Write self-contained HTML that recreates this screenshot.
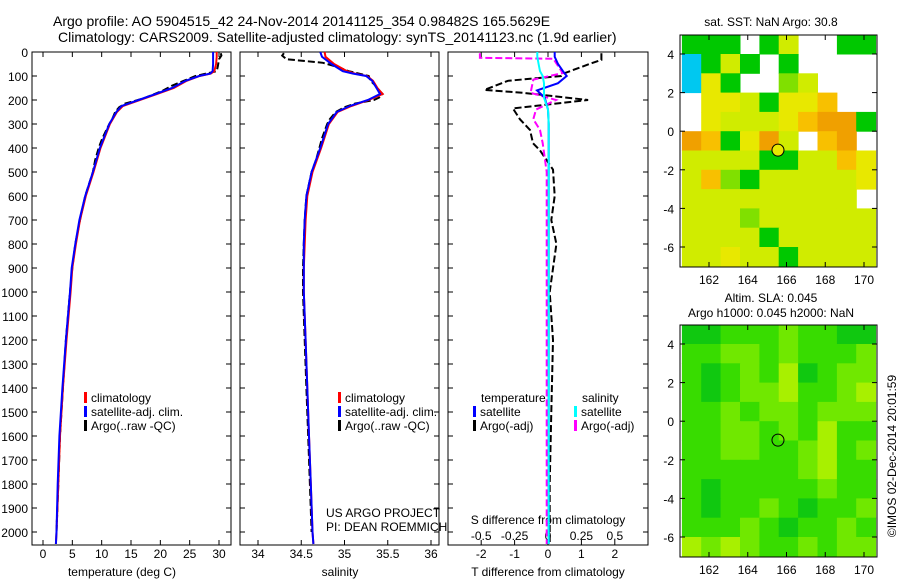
<!DOCTYPE html>
<html><head><meta charset="utf-8"><style>
body{margin:0;background:#fff}
svg{display:block;font-family:"Liberation Sans",sans-serif;font-size:12px}
</style></head><body>
<svg id="fig" width="900" height="580" xmlns="http://www.w3.org/2000/svg">
<text x="53" y="26" font-size="14">Argo profile: AO 5904515_42 24-Nov-2014 20141125_354 0.98482S 165.5629E</text>
<text x="58" y="42" font-size="14">Climatology: CARS2009. Satellite-adjusted climatology: synTS_20141123.nc (1.9d earlier)</text>
<text x="771" y="26" text-anchor="middle">sat. SST: NaN Argo: 30.8</text>
<text x="771" y="302" text-anchor="middle">Altim. SLA: 0.045</text>
<text x="771" y="317" text-anchor="middle">Argo h1000: 0.045 h2000: NaN</text>
<text transform="translate(896,456) rotate(-90)" text-anchor="middle">©IMOS 02-Dec-2014 20:01:59</text>
<g id="g"></g>
</svg>
<script>
// ---- data ----
const depthClim=[0,20,50,80,90,100,120,150,175,200,225,250,300,400,500,600,700,800,900,1000,1200,1400,1600,1800,2000,2050];
const tempClim=[29.6,29.6,29.5,29.2,28.6,26.7,24.5,22.3,19.4,16.5,13.6,12.6,11.4,9.8,8.6,7.3,6.3,5.6,5.0,4.7,4.0,3.4,2.9,2.6,2.3,2.2];
const tempSat=[29.0,29.0,29.0,28.9,28.5,26.6,24.3,22.0,19.2,16.3,13.4,12.5,11.3,9.7,8.5,7.2,6.2,5.5,4.9,4.6,3.9,3.3,2.8,2.5,2.3,2.2];
const salClim=[34.77,34.78,34.88,35.03,35.12,35.26,35.33,35.38,35.44,35.28,35.08,34.92,34.82,34.73,34.63,34.57,34.55,34.54,34.53,34.53,34.55,34.57,34.59,34.61,34.63,34.64];
const salSat=[34.72,34.74,34.85,34.98,35.10,35.25,35.32,35.37,35.41,35.27,35.06,34.91,34.81,34.72,34.62,34.56,34.54,34.53,34.53,34.53,34.55,34.57,34.59,34.61,34.63,34.64];
const depthArgo=[5,15,30,45,60,80,100,120,140,160,175,190,200,215,230,250,280,300,330,360,400,450,500,600,700,800,900,1000,1200,1400,1600,1800,2000];
const tempArgo=[30.3,30.4,30.0,29.9,29.8,29.6,26.0,24.0,22.0,20.5,19.0,17.5,16.2,14.0,13.0,12.3,11.8,11.3,10.7,10.1,9.5,8.9,8.5,7.2,6.3,5.5,5.0,4.6,3.9,3.4,2.9,2.6,2.3];
const salArgo=[34.30,34.28,34.33,34.75,34.90,35.05,35.28,35.30,35.36,35.40,35.44,35.40,35.34,35.12,35.00,34.90,34.83,34.80,34.77,34.74,34.71,34.67,34.62,34.56,34.54,34.53,34.52,34.52,34.54,34.56,34.58,34.60,34.62];
const tDiffSat=[0.2,0.2,0.3,0.45,0.56,0.3,-0.33,-0.1,0.0,0.02,0.02,0.02,0.02,0.02,0.02];
const sDiffSat=[-0.08,-0.08,-0.07,-0.06,-0.04,-0.03,-0.03,-0.03,0.0,0.005,0.005,0.005,0.005,0.005,0.005];
const depthDiff=[0,20,50,80,100,130,160,190,240,300,500,800,1200,1600,2050];
const tDiffArgo=[1.6,1.6,1.3,0.5,0.4,-1.2,-1.9,-0.75,1.2,-1.05,-0.84,-0.54,-0.45,-0.24,0.15,0.2,0.1,0.25,0.05,0.15,0.1,0.05,0.05];
const depthTArgo=[5,33,47,88,100,120,158,170,200,235,280,325,380,410,490,600,700,800,1000,1200,1500,1800,2050];
const sDiffArgo=[-0.51,-0.51,0.04,0.11,-0.11,-0.13,0.06,-0.09,-0.11,-0.06,-0.04,-0.01,-0.01,-0.01,-0.01];
const depthSArgo=[5,24,28,88,115,170,200,240,280,325,380,500,1000,1500,2050];
const depthTicks=[0,100,200,300,400,500,600,700,800,900,1000,1100,1200,1300,1400,1500,1600,1700,1800,1900,2000];
const tempTicks=[0,5,10,15,20,25,30];
const salTicks=[34,34.5,35,35.5,36];
const tdTicks=[-2,-1,0,1,2];
const sdTicks=[-0.5,-0.25,0,0.25,0.5];
const sdTickLabels=["-0.5","-0.25","0","0.25","0.5"];
const lonTicks=[162,164,166,168,170];
const latTicks=[4,2,0,-2,-4,-6];
// SST grid rows lat 5..-7 (1 deg), cols lon 160.6..170.6; 0 = NaN
const sstGrid=[
[2,2,2,0,2,4,0,0,2,2],
[1,2,4,2,0,2,0,0,0,0],
[1,5,2,0,0,3,4,0,0,0],
[0,5,5,4,2,5,5,6,0,0],
[0,5,4,4,4,5,6,7,7,2],
[7,6,2,5,7,4,0,6,7,0],
[4,4,4,4,2,2,4,4,6,5],
[4,6,3,2,4,4,4,4,4,5],
[4,4,4,4,4,4,4,4,4,0],
[4,4,4,3,4,4,4,4,4,4],
[4,4,4,4,2,4,4,4,4,4],
[4,4,5,4,4,2,4,4,4,4]];
const slaGrid=[
[1,1,2,2,2,3,2,2,1,1],
[2,2,3,3,2,3,2,2,2,3],
[2,1,2,3,2,4,1,2,3,3],
[2,1,2,3,3,4,2,2,3,4],
[2,2,3,2,3,3,2,3,3,3],
[2,2,3,3,2,3,2,4,2,2],
[2,2,3,3,2,2,3,4,2,3],
[2,2,2,2,2,2,3,4,2,2],
[2,1,2,2,2,2,2,3,2,2],
[2,1,2,2,3,2,1,2,2,3],
[2,2,2,3,2,1,2,2,3,2],
[4,3,4,3,2,2,3,2,3,3]];
const argoLon=165.56, argoLat=-0.98;

// ---- helpers ----
const NS="http://www.w3.org/2000/svg";
const G=document.getElementById('g');
function mk(tag,attrs,parent){const e=document.createElementNS(NS,tag);for(const k in attrs)e.setAttribute(k,attrs[k]);(parent||G).appendChild(e);return e;}
function txt(x,y,s,anchor){const e=mk('text',{x:x,y:y,'text-anchor':anchor||'start'});e.textContent=s;return e;}
const yD=d=>52+d*0.24;
const xT=t=>43+t*5.867;
const xS=s=>258+(s-34)*86.5;
const xTD=t=>548+t*33.4;
const xSD=s=>548+s*133.6;
function line(xs,ys,fx,color,dash,name){
  const pts=xs.map((v,i)=>fx(v).toFixed(1)+','+yD(ys[i]).toFixed(1)).join(' ');
  const e=mk('polyline',{points:pts,fill:'none',stroke:color,'stroke-width':2});
  if(dash)e.setAttribute('stroke-dasharray',dash);
  
  
}
function panel(x0,x1,name){
  const r=mk('rect',{x:x0,y:52,width:x1-x0,height:493,fill:'none',stroke:'#000'});
  
  
  depthTicks.forEach(d=>{mk('line',{x1:x0,x2:x0+5,y1:yD(d),y2:yD(d),stroke:'#000'});mk('line',{x1:x1,x2:x1-5,y1:yD(d),y2:yD(d),stroke:'#000'});});
}
function xticks(vals,fx,labels,ly){
  vals.forEach((v,i)=>{const x=fx(v);mk('line',{x1:x,x2:x,y1:545,y2:540,stroke:'#000'});mk('line',{x1:x,x2:x,y1:52,y2:57,stroke:'#000'});
   const t=txt(x,ly,labels?labels[i]:String(v),'middle');
   
   });
}
function legend(x,y,color,label){mk('rect',{x:x,y:y-10,width:3,height:11,fill:color});const t=txt(x+7,y,label);
 
 }

// ---- panel 1 temperature ----
panel(32,231,'temperature-panel');
depthTicks.forEach(d=>{const t=txt(28,yD(d)+5,String(d),'end');
 
 });
xticks(tempTicks,xT,null,558);
txt(122,576,'temperature (deg C)','middle');
line(tempArgo,depthArgo,xT,'#000','7,3','temp-argo-line');
line(tempClim,depthClim,xT,'#f00',null,'temp-climatology-line');
line(tempSat,depthClim,xT,'#00f',null,'temp-satellite-line');
legend(84,402,'#f00','climatology');legend(84,416,'#00f','satellite-adj. clim.');legend(84,430,'#000','Argo(..raw -QC)');

// ---- panel 2 salinity ----
panel(240,439,'salinity-panel');
xticks(salTicks,xS,null,558);
txt(340,576,'salinity','middle');
line(salArgo,depthArgo,xS,'#000','7,3','sal-argo-line');
line(salClim,depthClim,xS,'#f00',null,'sal-climatology-line');
line(salSat,depthClim,xS,'#00f',null,'sal-satellite-line');
legend(338,402,'#f00','climatology');legend(338,416,'#00f','satellite-adj. clim.');legend(338,430,'#000','Argo(..raw -QC)');
txt(326,517,'US ARGO PROJECT');
txt(326,531,'PI: DEAN ROEMMICH');

// ---- panel 3 differences ----
panel(448,648,'difference-panel');
xticks(tdTicks,xTD,null,558);
sdTicks.forEach((v,i)=>{const t=txt(xSD(v),540,sdTickLabels[i],'middle');
 
 });
txt(548,576,'T difference from climatology','middle');
txt(548,524,'S difference from climatology','middle');
line(tDiffArgo,depthTArgo,xTD,'#000','7,3','t-diff-argo-line');
line(sDiffArgo,depthSArgo,xSD,'#f0f','7,3','s-diff-argo-line');
line(tDiffSat,depthDiff,xTD,'#00f',null,'t-diff-satellite-line');
line(sDiffSat,depthDiff,xSD,'#0ff',null,'s-diff-satellite-line');
txt(481,402,'temperature');
txt(582,402,'salinity');
legend(473,416,'#00f','satellite');legend(473,430,'#000','Argo(-adj)');
legend(574,416,'#0ff','satellite');legend(574,430,'#f0f','Argo(-adj)');

// ---- maps ----
const sstColors=['#fff','#00c8f0','#00c800','#80e000','#d0ec00','#e8e800','#f8c000','#f0a000','#d07000'];
const slaColors=['#fff','#10c810','#38dc00','#70e800','#a8f000'];
const xLon=l=>709+(l-162)*19.375;
function map(grid,colors,yTop,name,fillMarker){
  const yLat=la=>yTop+19+(4-la)*19.3;
  const lon0=160.6;
  grid.forEach((row,r)=>row.forEach((v,c)=>{
    if(!v)return;
    const x=xLon(lon0+c),y=yLat(5-r);
    const e=mk('rect',{x:x.toFixed(1),y:y.toFixed(1),width:19.9,height:19.8,fill:colors[v]});
    
    
  }));
  const b=mk('rect',{x:680,y:yTop,width:197,height:232,fill:'none',stroke:'#000'});
  
  
  lonTicks.forEach(l=>{const x=xLon(l);mk('line',{x1:x,x2:x,y1:yTop,y2:yTop+5,stroke:'#000'});mk('line',{x1:x,x2:x,y1:yTop+232,y2:yTop+227,stroke:'#000'});
    const t=txt(x,yTop+249,String(l),'middle');
    
    });
  latTicks.forEach(la=>{const y=yLat(la);mk('line',{x1:680,x2:685,y1:y,y2:y,stroke:'#000'});mk('line',{x1:877,x2:872,y1:y,y2:y,stroke:'#000'});
    const t=txt(674,y+5,String(la),'end');
    
    });
  const m=mk('circle',{cx:xLon(argoLon),cy:yLat(argoLat),r:6,fill:fillMarker,stroke:'#000'});
  
  
}
map(sstGrid,sstColors,35,'sst-map','#e8e800');
map(slaGrid,slaColors,325,'sla-map','none');
</script>
</body></html>
